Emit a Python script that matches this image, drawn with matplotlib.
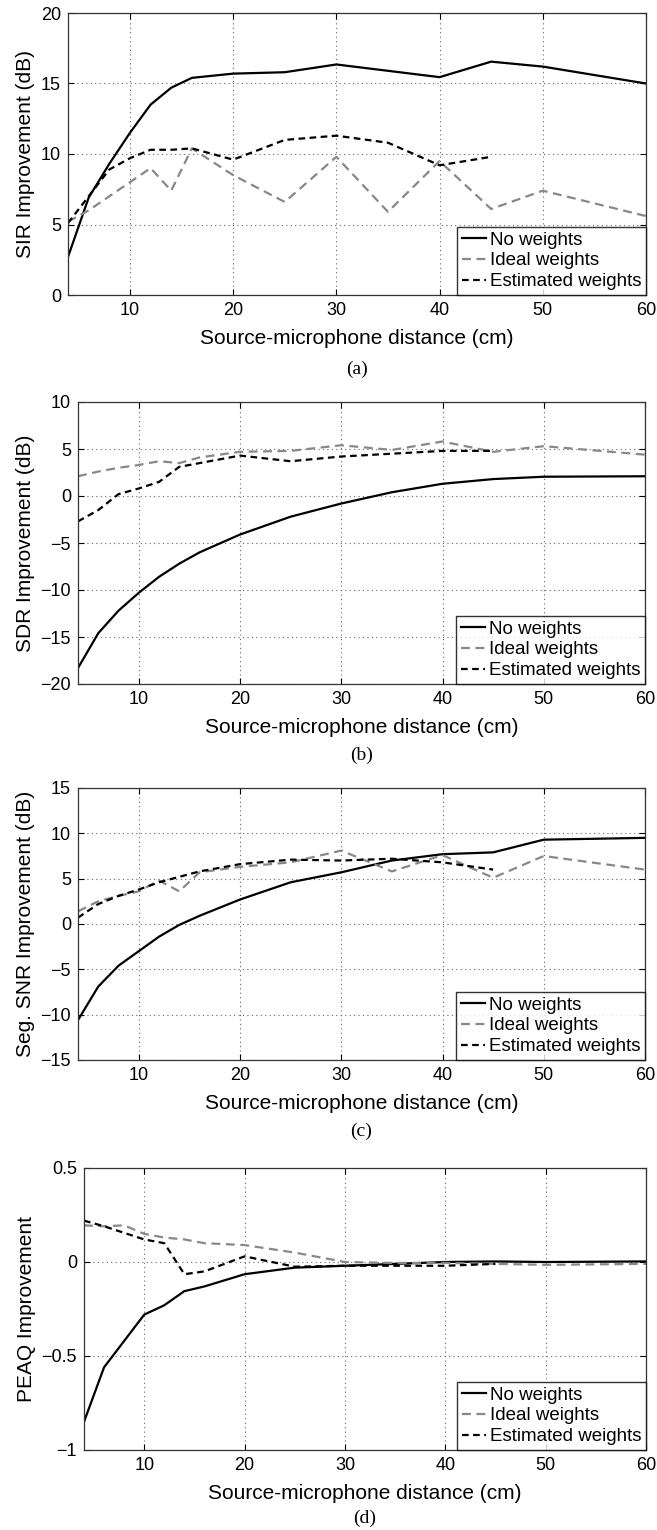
import matplotlib
matplotlib.use("Agg")
import matplotlib.pyplot as plt

plt.rcParams['font.family'] = ['Liberation Sans', 'DejaVu Sans']

distance = [4, 6, 8, 10, 12, 14, 16, 20, 25, 30, 35, 40, 45, 50, 60]
distance_est = [4, 6, 8, 10, 12, 14, 16, 20, 25, 30, 35, 40, 45]

sir_none = [2.7, 6.9, 9.3, 11.5, 13.5, 14.7, 15.4, 15.7, 15.8, 16.35, 15.9, 15.45, 16.55, 16.2, 15.0]
sir_ideal = [5.2, 6.0, 7.0, 8.0, 9.0, 7.4, 10.4, 8.5, 6.6, 9.8, 5.9, 9.5, 6.1, 7.4, 5.6]
sir_est = [5.1, 7.0, 8.9, 9.7, 10.3, 10.3, 10.4, 9.6, 11.0, 11.3, 10.8, 9.2, 9.8]

sdr_none = [-18.3, -14.6, -12.2, -10.3, -8.6, -7.2, -6.0, -4.1, -2.2, -0.8, 0.4, 1.3, 1.8, 2.05, 2.1]
sdr_ideal = [2.1, 2.6, 3.0, 3.3, 3.7, 3.5, 4.1, 4.7, 4.8, 5.4, 4.9, 5.8, 4.7, 5.3, 4.4]
sdr_est = [-2.7, -1.5, 0.2, 0.8, 1.5, 3.1, 3.5, 4.3, 3.7, 4.2, 4.5, 4.8, 4.8]

snr_none = [-10.6, -6.9, -4.6, -3.0, -1.4, -0.1, 0.9, 2.7, 4.6, 5.7, 7.0, 7.7, 7.9, 9.3, 9.5]
snr_ideal = [1.4, 2.5, 3.1, 3.6, 4.8, 3.6, 5.7, 6.3, 6.8, 8.1, 5.8, 7.6, 5.1, 7.5, 6.0]
snr_est = [0.7, 2.2, 3.1, 3.8, 4.6, 5.2, 5.8, 6.6, 7.1, 7.0, 7.2, 6.8, 6.0]

peaq_none = [-0.85, -0.56, -0.42, -0.28, -0.23, -0.155, -0.13, -0.065, -0.03, -0.02, -0.01, 0.0, 0.003, 0.0, 0.003]
peaq_ideal = [0.195, 0.19, 0.195, 0.15, 0.13, 0.12, 0.10, 0.09, 0.05, 0.0, -0.005, -0.005, -0.01, -0.015, -0.01]
peaq_est = [0.22, 0.19, 0.155, 0.12, 0.10, -0.065, -0.05, 0.03, -0.025, -0.02, -0.02, -0.02, -0.01]

xticks = [10, 20, 30, 40, 50, 60]

panels = [
    dict(none=sir_none, ideal=sir_ideal, est=sir_est, ylabel='SIR Improvement (dB)',
         ylim=(0, 20), yticks=[0, 5, 10, 15, 20], ytl=['0', '5', '10', '15', '20'], cap='(a)',
         box=(68, 646, 13, 295), capy=369),
    dict(none=sdr_none, ideal=sdr_ideal, est=sdr_est, ylabel='SDR Improvement (dB)',
         ylim=(-20, 10), yticks=[-20, -15, -10, -5, 0, 5, 10],
         ytl=['\u221220', '\u221215', '\u221210', '\u22125', '0', '5', '10'], cap='(b)',
         box=(78, 645, 402, 684), capy=755),
    dict(none=snr_none, ideal=snr_ideal, est=snr_est, ylabel='Seg. SNR Improvement (dB)',
         ylim=(-15, 15), yticks=[-15, -10, -5, 0, 5, 10, 15],
         ytl=['\u221215', '\u221210', '\u22125', '0', '5', '10', '15'], cap='(c)',
         box=(78, 645, 788, 1060), capy=1131),
    dict(none=peaq_none, ideal=peaq_ideal, est=peaq_est, ylabel='PEAQ Improvement',
         ylim=(-1, 0.5), yticks=[-1, -0.5, 0, 0.5],
         ytl=['\u22121', '\u22120.5', '0', '0.5'], cap='(d)',
         box=(84, 646, 1168, 1450), capy=1518),
]

W, H = 657, 1530
fig = plt.figure(figsize=(W / 100, H / 100), dpi=100)

for p in panels:
    l, r, t, b = p['box']
    ax = fig.add_axes([l / W, 1 - b / H, (r - l) / W, (b - t) / H])
    ax.plot(distance, p['none'], color='black', lw=1.6, ls='-', label='No weights')
    ax.plot(distance, p['ideal'], color='#888888', lw=1.6, ls=(0, (4, 2.5)), label='Ideal weights')
    ax.plot(distance_est, p['est'], color='black', lw=1.6, ls=(0, (3, 2)), label='Estimated weights')
    ax.set_xlim(4, 60)
    ax.set_ylim(*p['ylim'])
    ax.set_xticks(xticks)
    ax.set_xticklabels([str(v) for v in xticks])
    ax.set_yticks(p['yticks'])
    ax.set_yticklabels(p['ytl'])
    ax.grid(True, ls=(0, (1, 3)), color='#666666', lw=0.8)
    ax.tick_params(direction='in', top=True, right=True, labelsize=13, length=4, width=0.8, pad=5)
    for s in ax.spines.values():
        s.set_linewidth(0.9)
        s.set_color('#333333')
    ax.set_xlabel('Source-microphone distance (cm)', fontsize=15, labelpad=7)
    ax.set_ylabel(p['ylabel'], fontsize=15, labelpad=4)
    leg = ax.legend(loc='lower right', fontsize=13.5, frameon=True, fancybox=False,
                    edgecolor='black', handlelength=1.3, handletextpad=0.2,
                    borderpad=0.25, labelspacing=0.2, borderaxespad=0.0)
    leg.get_frame().set_linewidth(1.0)
    fig.text((l + r) / 2 / W, 1 - p['capy'] / H, p['cap'], ha='center', va='center',
             fontsize=14, family=['Liberation Serif', 'DejaVu Serif'])

fig.savefig('out.png', dpi=100)
